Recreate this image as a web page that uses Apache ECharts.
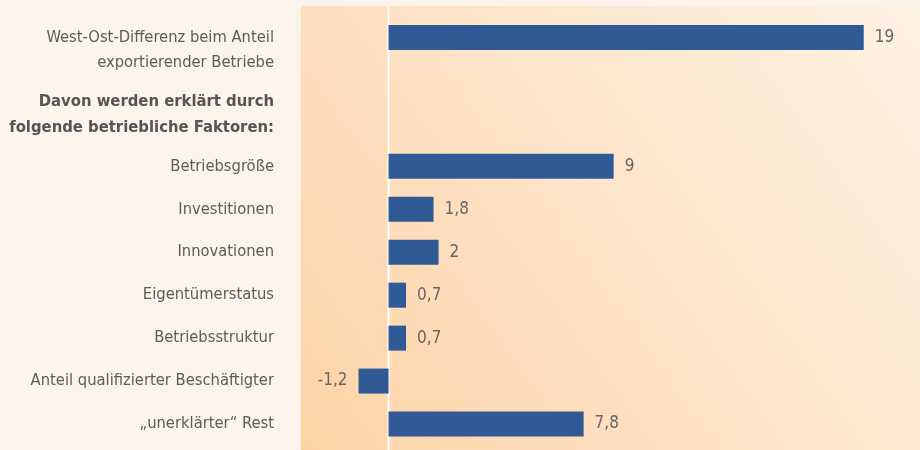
<!DOCTYPE html>
<html>
<head>
<meta charset="utf-8">
<script src="https://cdn.jsdelivr.net/npm/echarts@6/dist/echarts.min.js"></script>
<style>
  html, body { margin: 0; padding: 0; background: #fcf3ea; }
  #chart { width: 920px; height: 450px; }
</style>
</head>
<body>
<div id="chart"></div>
<script>
// Kategorien von oben nach unten (leere Zeilen für die Zwischenüberschrift)
var categories = [
  'West-Ost-Differenz beim Anteil\nexportierender Betriebe',
  '',
  ' ',
  'Betriebsgröße',
  'Investitionen',
  'Innovationen',
  'Eigentümerstatus',
  'Betriebsstruktur',
  'Anteil qualifizierter Beschäftigter',
  '„unerklärter“ Rest'
]
var values = [19, null, null, 9, 1.8, 2, 0.7, 0.7, -1.2, 7.8]
var heading = ['Davon werden erklärt durch', 'folgende betriebliche Faktoren:']

var labelFont = '"Liberation Sans Narrow", "DejaVu Sans Condensed", "Noto Sans", sans-serif'

// negative Werte: Beschriftung links vom Balken
var barData = values.map(function (v) {
  if (v !== null && v < 0) {
    return { value: v, label: { position: 'left' } }
  }
  return v
})

var chart = echarts.init(document.getElementById('chart'))
var option = {
  backgroundColor: '#fcf3ea',
  animation: false,
  grid: {
    left: 301,
    right: 0,
    top: 15.5,
    bottom: 4.5
  },
  xAxis: {
    type: 'value',
    min: -3.5,
    max: 21.25,
    show: false
  },
  yAxis: {
    type: 'category',
    inverse: true,
    data: categories,
    axisLine: { show: false },
    axisTick: { show: false },
    splitLine: { show: false },
    axisLabel: {
      margin: 27,
      color: '#5c5c5c',
      fontFamily: labelFont,
      fontSize: 16.4,
      lineHeight: 25,
      // erste Beschriftung etwas nach unten versetzt, wie im Original
      formatter: function (value, index) {
        return index === 0 ? '\n' + value : value
      }
    }
  },
  series: [
    {
      type: 'bar',
      data: barData,
      barWidth: 25,
      itemStyle: { color: '#2f5a95' },
      label: {
        show: true,
        position: 'right',
        distance: 11,
        color: '#666666',
        fontFamily: labelFont,
        fontSize: 17,
        formatter: function (p) {
          return String(p.value).replace('.', ',')
        }
      },
      z: 3
    }
  ]
}
chart.setOption(option)

// Hintergrundfläche, Nulllinie und Zwischenüberschrift
var zeroX = chart.convertToPixel({ xAxisIndex: 0 }, 0)
var headY = (chart.convertToPixel({ yAxisIndex: 0 }, 1) + chart.convertToPixel({ yAxisIndex: 0 }, 2)) / 2 + 13
chart.setOption({
  graphic: [
    {
      type: 'rect',
      left: 301,
      top: 6,
      z: -10,
      silent: true,
      shape: { width: 619, height: 444 },
      style: {
        fill: new echarts.graphic.LinearGradient(0, 1, 1, 0, [
          { offset: 0, color: '#fdd3a6' },
          { offset: 0.5, color: '#fde4c9' },
          { offset: 1, color: '#fef2e3' }
        ])
      }
    },
    {
      type: 'line',
      z: 1,
      silent: true,
      shape: { x1: zeroX, y1: 6, x2: zeroX, y2: 450 },
      style: { stroke: '#ffffff', lineWidth: 2 }
    },
    {
      type: 'text',
      z: 5,
      silent: true,
      style: {
        x: 274,
        y: headY,
        text: heading.join('\n'),
        align: 'right',
        verticalAlign: 'middle',
        fill: '#555555',
        font: 'bold 16.5px ' + labelFont,
        lineHeight: 26
      }
    }
  ]
})
</script>
</body>
</html>
